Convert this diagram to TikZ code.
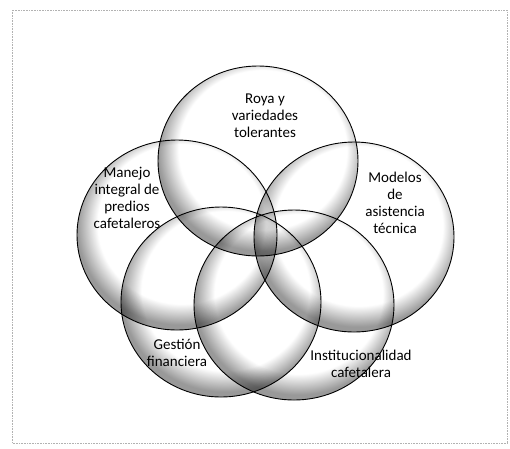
\documentclass[tikz,border=0pt]{standalone}
\usepackage{fontspec}
\setmainfont{Carlito}
\usetikzlibrary{shapes.geometric}
\pgfdeclareradialshading{rim}{\pgfpoint{2bp}{5bp}}{color(0bp)=(white); color(21bp)=(white); color(26bp)=(black!40); color(50bp)=(black!40)}
\tikzset{
  circ/.style={ellipse,draw,line width=0.9pt,shading=rim,minimum width=200pt,minimum height=190pt,inner sep=0pt},
  lbl/.style={align=center,inner sep=0pt,font=\fontsize{15}{16.8}\selectfont}
}
\begin{document}
\begin{tikzpicture}[x=1pt,y=-1pt]
  \useasboundingbox (0,0) rectangle (510,448);
  % frame
  \draw[gray!60,line width=0.6pt,densely dotted] (12,10) rectangle (507,443);
  % five overlapping areas
  \begin{scope}[blend mode=multiply]
    \foreach \nm/\cx/\cy in {roya/258/161, manejo/177/235, modelos/354/237, gestion/221/302, inst/294/305}
      \node[circ] (\nm) at (\cx,\cy) {};
  \end{scope}
  % labels
  \node[lbl] (troya) at (265,116) {Roya y\\variedades\\tolerantes};
  \node[lbl] (tmanejo) at (127,198) {Manejo\\integral de\\predios\\cafetaleros};
  \node[lbl] (tmodelos) at (395,203) {Modelos\\de\\asistencia\\técnica};
  \node[lbl] (tgestion) at (177,353) {Gestión\\financiera};
  \node[lbl] (tinst) at (361,364) {Institucionalidad\\cafetalera};
\end{tikzpicture}
\end{document}
